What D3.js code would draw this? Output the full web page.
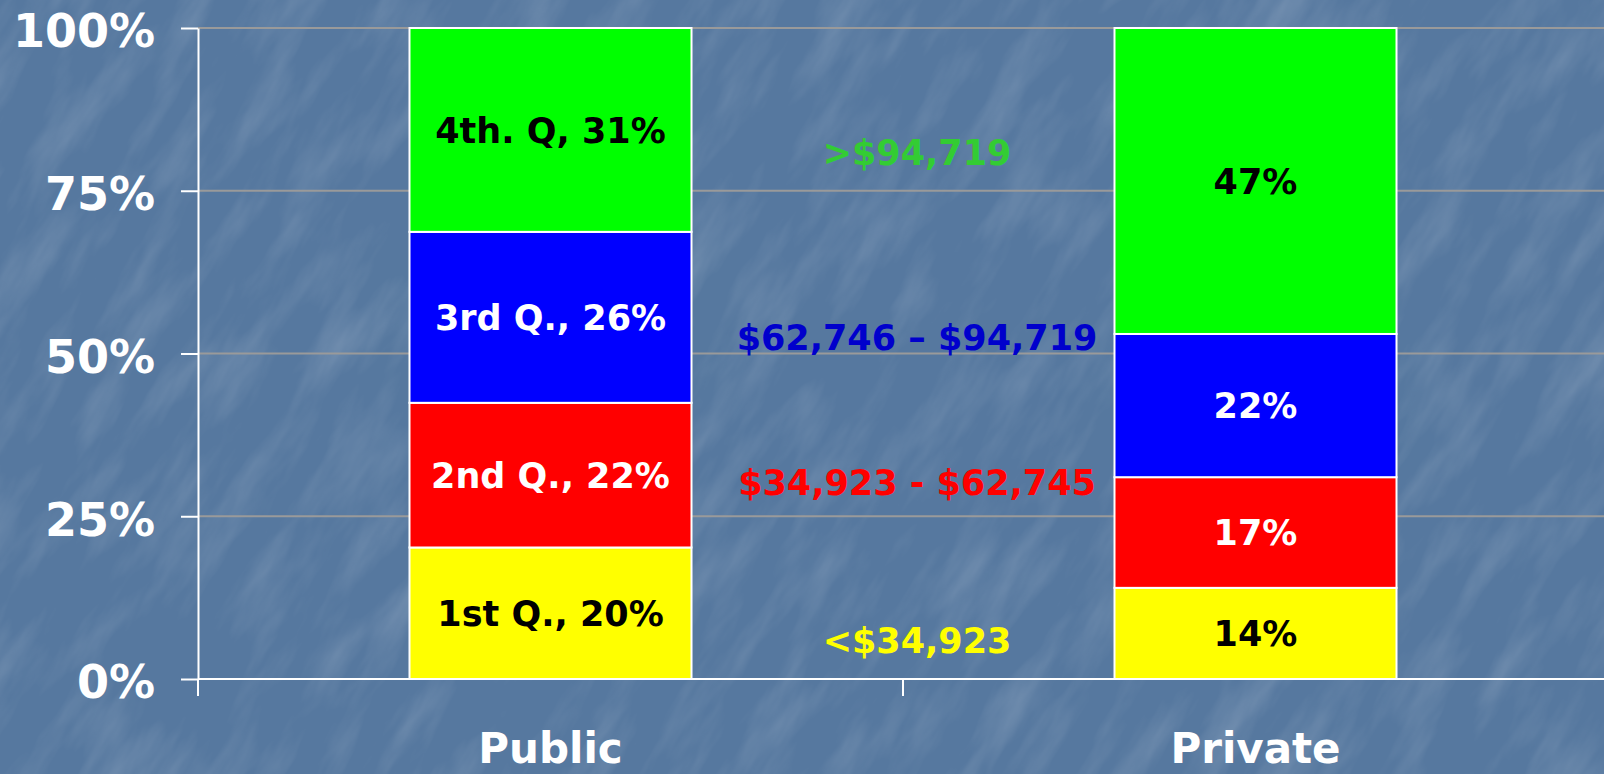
<!DOCTYPE html>
<html>
<head>
<meta charset="utf-8">
<script src="https://cdn.jsdelivr.net/npm/d3@7"></script>
<style>
  html, body { margin: 0; padding: 0; background: #587aa0; }
  svg { display: block; font-family: "DejaVu Sans", Verdana, sans-serif; font-weight: bold; }
  .axis path, .axis line { stroke: #fff; stroke-width: 2; }
  .axis text { fill: #fff; font-size: 46px; font-weight: bold; font-family: "DejaVu Sans", sans-serif; }
</style>
</head>
<body>
<svg id="chart"></svg>
<script>
// data
var categories = ["Public", "Private"];
var quartileKeys = ["q1", "q2", "q3", "q4"];
var publicValues = [20, 22, 26, 31];
var privateValues = [14, 17, 22, 47];
var publicNames = ["1st Q., ", "2nd Q., ", "3rd Q., ", "4th. Q, "];
var privateNames = ["", "", "", ""];
var incomeRanges = ["<$34,923", "$34,923 - $62,745", "$62,746 \u2013 $94,719", ">$94,719"];
var rangeLabelAt = [0.04, 0.283, 0.506, 0.79];   // where the middle labels sit, in axis units
var yTicks = [0, 0.25, 0.5, 0.75, 1];

//begin: layout conf.
var svgWidth = 1604,
    svgHeight = 774,
    plotLeft = 198,
    plotRight = 1608,
    plotTop = 28,
    plotBottom = 679;
//end: layout conf.

var fills = ["#ffff00", "#ff0000", "#0000ff", "#00ff00"],
    innerText = ["#000", "#fff", "#fff", "#000"],
    rangeColors = ["#ffff00", "#ff0000", "#0000cc", "#33cc33"];

var svg = d3.select("#chart")
    .attr("width", svgWidth)
    .attr("height", svgHeight);

// textured blue background
var defs = svg.append("defs");
var filter = defs.append("filter").attr("id", "tex")
    .attr("x", 0).attr("y", 0).attr("width", "100%").attr("height", "100%");
filter.append("feTurbulence")
    .attr("type", "fractalNoise")
    .attr("baseFrequency", "0.03 0.008")
    .attr("numOctaves", 4)
    .attr("seed", 7);
filter.append("feColorMatrix")
    .attr("type", "matrix")
    .attr("values", "0 0 0 0 1  0 0 0 0 1  0 0 0 0 1  1.5 0 0 0 -0.66");

svg.append("rect")
    .attr("width", svgWidth).attr("height", svgHeight)
    .attr("fill", "#56789f");
svg.append("g")
    .attr("transform", "translate(" + [svgWidth / 2, svgHeight / 2] + ") rotate(32)")
  .append("rect")
    .attr("x", -1300).attr("y", -1300)
    .attr("width", 2600).attr("height", 2600)
    .attr("filter", "url(#tex)")
    .attr("opacity", 0.2);

// rows for the stack
var table = categories.map(function(c, i) {
  var vals = i === 0 ? publicValues : privateValues;
  var row = { name: c };
  quartileKeys.forEach(function(k, j) { row[k] = vals[j]; });
  return row;
});
var series = d3.stack().keys(quartileKeys).offset(d3.stackOffsetExpand)(table);

var x = d3.scaleBand()
    .domain(categories)
    .range([plotLeft, plotRight])
    .padding(0);
var barWidth = x.bandwidth() * 0.4;

var y = d3.scaleLinear()
    .domain([0, 1])
    .range([plotBottom, plotTop]);

// gridlines
svg.append("g")
    .selectAll("line")
    .data(yTicks.filter(function(d) { return d > 0; }))
    .enter().append("line")
      .attr("x1", plotLeft).attr("x2", plotRight)
      .attr("y1", y).attr("y2", y)
      .attr("stroke", "#9a9a9a")
      .attr("stroke-width", 2);

// y axis
var yAxis = svg.append("g")
    .attr("class", "axis")
    .attr("transform", "translate(" + plotLeft + ",0)")
    .call(d3.axisLeft(y).tickValues(yTicks).tickFormat(d3.format(".0%")).tickSize(17).tickSizeOuter(0).tickPadding(26));
yAxis.selectAll("text").attr("dy", "0.41em");

// x axis line + ticks on band edges
var xAxis = svg.append("g").attr("class", "axis");
xAxis.append("line")
    .attr("x1", plotLeft).attr("x2", plotRight)
    .attr("y1", plotBottom).attr("y2", plotBottom);
xAxis.selectAll(".edge")
    .data(categories.concat(["end"]))
    .enter().append("line")
      .attr("class", "edge")
      .attr("x1", function(d, i) { return plotLeft + i * x.step(); })
      .attr("x2", function(d, i) { return plotLeft + i * x.step(); })
      .attr("y1", plotBottom).attr("y2", plotBottom + 17);
xAxis.selectAll(".cat")
    .data(categories)
    .enter().append("text")
      .attr("class", "cat")
      .attr("x", function(d) { return x(d) + x.bandwidth() / 2; })
      .attr("y", 763)
      .attr("text-anchor", "middle")
      .style("font-size", "42px")
      .text(function(d) { return d; });

// bars
var layers = svg.append("g").selectAll(".layer")
    .data(series)
    .enter().append("g")
      .attr("class", "layer");

layers.selectAll("rect")
    .data(function(s) { return s; })
    .enter().append("rect")
      .attr("x", function(d) { return x(d.data.name) + (x.bandwidth() - barWidth) / 2; })
      .attr("y", function(d) { return y(d[1]); })
      .attr("width", barWidth)
      .attr("height", function(d) { return y(d[0]) - y(d[1]); })
      .attr("fill", function(d, i, n) { return fills[d3.select(n[i].parentNode).datum().index]; })
      .attr("stroke", "#fff")
      .attr("stroke-width", 2);

layers.selectAll("text")
    .data(function(s) { return s.map(function(d) { d.k = s.index; return d; }); })
    .enter().append("text")
      .attr("x", function(d) { return x(d.data.name) + x.bandwidth() / 2; })
      .attr("y", function(d) { return (y(d[0]) + y(d[1])) / 2; })
      .attr("dy", "0.36em")
      .attr("text-anchor", "middle")
      .style("font-size", "35px")
      .attr("fill", function(d) { return innerText[d.k]; })
      .text(function(d) {
        var isPublic = d.data.name === "Public";
        var names = isPublic ? publicNames : privateNames;
        return names[d.k] + d.data[quartileKeys[d.k]] + "%";
      });

// income range labels between the bars
svg.append("g").selectAll("text")
    .data(incomeRanges)
    .enter().append("text")
      .attr("x", plotLeft + x.step() + 14)
      .attr("y", function(d, i) { return y(rangeLabelAt[i]); })
      .attr("text-anchor", "middle")
      .style("font-size", "35px")
      .attr("fill", function(d, i) { return rangeColors[i]; })
      .text(function(d) { return d; });
</script>
</body>
</html>
